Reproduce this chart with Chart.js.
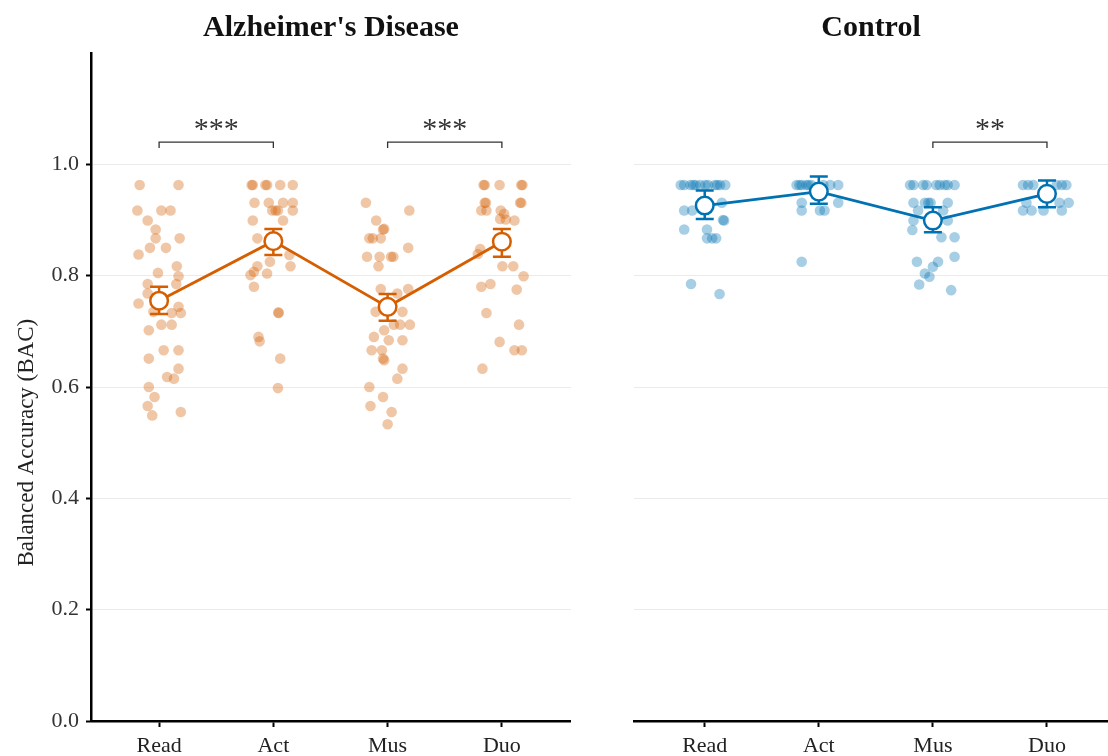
<!DOCTYPE html>
<html>
<head>
<meta charset="utf-8">
<script src="https://cdn.jsdelivr.net/npm/chart.js@4.4.1/dist/chart.umd.min.js"></script>
<style>
  body { margin: 0; background: #fff; }
  #wrap { position: relative; width: 1108px; height: 756px; overflow: hidden; }
  canvas { position: absolute; top: 0; }
</style>
</head>
<body>
<div id="wrap">
  <canvas id="adChart" width="571" height="756" style="left:0"></canvas>
  <canvas id="ctlChart" width="528" height="756" style="left:580px"></canvas>
</div>
<script>
const categories = ['Read', 'Act', 'Mus', 'Duo'];

// individual subjects: [horizontal jitter, balanced accuracy]
const adRead = [[-0.17,0.963],[0.17,0.963],[-0.19,0.917],[0.02,0.917],[0.10,0.917],[-0.10,0.899],
  [-0.03,0.883],[-0.03,0.867],[0.18,0.867],[-0.08,0.850],[0.06,0.850],[-0.18,0.838],[0.155,0.817],
  [-0.01,0.805],[0.17,0.799],[-0.10,0.785],[0.15,0.785],[-0.10,0.768],[-0.18,0.750],[0.17,0.744],
  [-0.05,0.735],[0.11,0.733],[0.19,0.733],[0.02,0.712],[0.11,0.712],[-0.09,0.702],[0.04,0.666],
  [0.17,0.666],[-0.09,0.651],[0.17,0.633],[0.07,0.618],[0.13,0.615],[-0.09,0.600],[-0.04,0.582],
  [-0.10,0.566],[0.19,0.555],[-0.06,0.549]];
const adAct = [[-0.18,0.963],[-0.19,0.963],[-0.055,0.963],[-0.07,0.963],[0.06,0.963],[0.17,0.963],
  [-0.165,0.931],[-0.04,0.931],[0.085,0.931],[0.17,0.931],[-0.01,0.917],[0.04,0.917],[0.02,0.917],
  [0.17,0.917],[-0.18,0.899],[0.085,0.899],[-0.14,0.867],[0.14,0.837],[-0.03,0.825],[0.15,0.817],
  [-0.14,0.817],[-0.17,0.807],[-0.055,0.804],[-0.2,0.801],[-0.17,0.780],[0.045,0.733],[0.045,0.734],
  [-0.13,0.690],[-0.12,0.682],[0.06,0.651],[0.04,0.598]];
const adMus = [[-0.19,0.931],[0.19,0.917],[-0.10,0.899],[-0.04,0.883],[-0.03,0.884],[-0.16,0.867],
  [-0.13,0.867],[-0.06,0.867],[0.18,0.850],[-0.18,0.834],[-0.07,0.834],[0.03,0.834],[0.05,0.834],
  [-0.08,0.817],[-0.06,0.776],[0.18,0.776],[0.085,0.768],[-0.105,0.735],[0.13,0.735],[0.055,0.712],
  [0.11,0.712],[0.195,0.712],[-0.03,0.702],[-0.12,0.690],[0.01,0.684],[0.13,0.684],[-0.14,0.666],
  [-0.05,0.666],[-0.04,0.651],[-0.03,0.648],[0.13,0.633],[0.085,0.615],[-0.16,0.600],[-0.04,0.582],
  [-0.15,0.566],[0.035,0.555],[0.0,0.533]];
const adDuo = [[-0.16,0.963],[-0.15,0.963],[-0.02,0.963],[0.17,0.963],[0.18,0.963],[-0.15,0.931],
  [-0.14,0.931],[0.17,0.931],[0.16,0.931],[-0.18,0.917],[-0.135,0.917],[-0.01,0.917],[0.02,0.911],
  [-0.015,0.902],[0.035,0.901],[0.11,0.899],[-0.19,0.848],[-0.21,0.839],[0.005,0.817],[0.10,0.817],
  [0.19,0.799],[-0.1,0.785],[-0.18,0.780],[0.13,0.775],[-0.135,0.733],[0.15,0.712],[-0.02,0.681],
  [0.11,0.666],[0.175,0.666],[-0.17,0.633]];

const ctlRead = [[-0.21,0.963],[-0.18,0.963],[-0.125,0.963],[-0.10,0.963],[-0.08,0.963],[-0.04,0.963],
  [0.005,0.963],[0.03,0.963],[0.09,0.963],[0.11,0.963],[0.135,0.963],[0.18,0.963],[0.15,0.931],
  [-0.18,0.917],[-0.11,0.917],[0.17,0.899],[0.16,0.900],[-0.18,0.883],[0.02,0.883],[0.02,0.867],
  [0.065,0.867],[0.10,0.867],[-0.12,0.785],[0.13,0.767]];
const ctlAct = [[-0.195,0.963],[-0.17,0.963],[-0.15,0.963],[-0.11,0.963],[-0.09,0.963],[-0.065,0.963],
  [0.04,0.963],[0.1,0.963],[0.17,0.963],[-0.15,0.931],[0.17,0.931],[-0.15,0.917],[0.01,0.917],
  [0.05,0.917],[-0.15,0.825]];
const ctlMus = [[-0.20,0.963],[-0.17,0.963],[-0.085,0.963],[-0.055,0.963],[0.03,0.963],[0.06,0.963],
  [0.105,0.963],[0.13,0.963],[0.19,0.963],[-0.17,0.931],[-0.07,0.931],[-0.04,0.931],[-0.02,0.931],
  [0.13,0.931],[-0.13,0.917],[0.09,0.917],[-0.17,0.899],[0.13,0.899],[-0.18,0.882],[0.075,0.869],
  [0.19,0.869],[0.19,0.834],[-0.14,0.825],[0.045,0.825],[0.0,0.816],[-0.07,0.804],[-0.03,0.798],
  [-0.12,0.784],[0.16,0.774]];
const ctlDuo = [[-0.21,0.963],[-0.165,0.963],[-0.12,0.963],[0.085,0.963],[0.13,0.963],[0.17,0.963],
  [-0.18,0.931],[0.11,0.931],[0.19,0.931],[-0.21,0.917],[-0.135,0.917],[-0.03,0.917],[0.13,0.917]];

// group means with error bar limits
const adMeans = [0.755, 0.862, 0.744, 0.861];
const adLower = [0.731, 0.837, 0.719, 0.834];
const adUpper = [0.780, 0.884, 0.767, 0.884];
const ctlMeans = [0.926, 0.951, 0.899, 0.947];
const ctlLower = [0.902, 0.929, 0.878, 0.923];
const ctlUpper = [0.953, 0.978, 0.923, 0.971];

// significance brackets: [from category, to category, label]
const adBrackets = [[1, 2, '***'], [3, 4, '***']];
const ctlBrackets = [[3, 4, '**']];
const bracketLevel = 1.04;

const yTicks = [0, 0.2, 0.4, 0.6, 0.8, 1.0];

const SERIF = "'Liberation Serif', 'Times New Roman', serif";

function toPoints(groups) {
    return groups.flatMap((g, i) => g.map(p => ({ x: i + 1 + p[0], y: p[1] })));
}

// error bars drawn right after the jittered points, under the mean line
const errorBarPlugin = {
    id: 'errorBars',
    afterDatasetDraw(chart, args, opts) {
        if (args.index !== 0) return;
        const ctx = chart.ctx, xs = chart.scales.x, ys = chart.scales.y;
        ctx.save();
        ctx.strokeStyle = opts.color;
        ctx.lineWidth = 2.5;
        opts.lower.forEach((lo, i) => {
            const x = xs.getPixelForValue(i + 1);
            const y1 = ys.getPixelForValue(lo), y2 = ys.getPixelForValue(opts.upper[i]);
            ctx.beginPath();
            ctx.moveTo(x, y1); ctx.lineTo(x, y2);
            ctx.moveTo(x - 9, y1); ctx.lineTo(x + 9, y1);
            ctx.moveTo(x - 9, y2); ctx.lineTo(x + 9, y2);
            ctx.stroke();
        });
        ctx.restore();
    }
};

const bracketPlugin = {
    id: 'sigBrackets',
    afterDraw(chart, args, opts) {
        const ctx = chart.ctx, xs = chart.scales.x, ys = chart.scales.y;
        ctx.save();
        ctx.strokeStyle = '#333';
        ctx.fillStyle = '#333';
        ctx.lineWidth = 1.3;
        ctx.font = '30px ' + SERIF;
        ctx.textAlign = 'center';
        ctx.textBaseline = 'alphabetic';
        opts.items.forEach(b => {
            const x1 = xs.getPixelForValue(b[0]), x2 = xs.getPixelForValue(b[1]);
            const y = ys.getPixelForValue(bracketLevel);
            ctx.beginPath();
            ctx.moveTo(x1, y + 6); ctx.lineTo(x1, y); ctx.lineTo(x2, y); ctx.lineTo(x2, y + 6);
            ctx.stroke();
            ctx.fillText(b[2], (x1 + x2) / 2, y - 4);
        });
        ctx.restore();
    }
};

const yTitlePlugin = {
    id: 'yTitle',
    afterDraw(chart, args, opts) {
        if (!opts.text) return;
        const ctx = chart.ctx, ys = chart.scales.y;
        const yc = (ys.getPixelForValue(0) + ys.getPixelForValue(1)) / 2;
        ctx.save();
        ctx.translate(27, yc);
        ctx.rotate(-Math.PI / 2);
        ctx.font = '23px ' + SERIF;
        ctx.fillStyle = '#222';
        ctx.textAlign = 'center';
        ctx.textBaseline = 'middle';
        ctx.fillText(opts.text, 0, 0);
        ctx.restore();
    }
};

function makeChart(id, cfg) {
    const color = cfg.color;
    return new Chart(document.getElementById(id), {
        data: {
            datasets: [{
                type: 'scatter',
                data: toPoints(cfg.groups),
                backgroundColor: cfg.pointColor,
                borderWidth: 0,
                pointRadius: 5.3,
                pointHoverRadius: 5.3,
                order: 2
            }, {
                type: 'line',
                data: cfg.means.map((m, i) => ({ x: i + 1, y: m })),
                borderColor: color,
                borderWidth: 2.8,
                pointRadius: 8.8,
                pointBackgroundColor: '#fff',
                pointBorderColor: color,
                pointBorderWidth: 2.5,
                tension: 0,
                order: 1
            }]
        },
        options: {
            responsive: false,
            animation: false,
            layout: { padding: 0, autoPadding: false },
            plugins: {
                legend: { display: false },
                tooltip: { enabled: false },
                title: {
                    display: true,
                    text: cfg.title,
                    fullSize: false,
                    color: '#111',
                    font: { family: SERIF, size: 30, weight: 'bold', lineHeight: 1.2 },
                    padding: { top: 10, bottom: 7 }
                },
                errorBars: { lower: cfg.lower, upper: cfg.upper, color: color },
                sigBrackets: { items: cfg.brackets },
                yTitle: { text: cfg.yTitle }
            },
            scales: {
                x: {
                    type: 'linear',
                    min: cfg.xMin,
                    max: cfg.xMax,
                    afterBuildTicks: s => { s.ticks = categories.map((c, i) => ({ value: i + 1 })); },
                    afterFit: s => {
                        s.height = 35;
                        s.paddingLeft = 0;
                        s.paddingRight = 0;
                    },
                    ticks: {
                        autoSkip: false,
                        maxRotation: 0,
                        padding: 6,
                        color: '#222',
                        font: { family: SERIF, size: 22 },
                        callback: v => categories[Math.round(v) - 1]
                    },
                    grid: { drawOnChartArea: false, drawTicks: true, tickLength: 6, tickColor: '#000', tickWidth: 2 },
                    border: { display: true, color: '#000', width: 2.5 }
                },
                y: {
                    min: 0,
                    max: 1.2,
                    afterBuildTicks: s => { s.ticks = yTicks.map(v => ({ value: v })); },
                    afterFit: s => { s.width = cfg.yWidth; },
                    ticks: {
                        display: cfg.showY,
                        padding: 7,
                        color: '#333',
                        font: { family: SERIF, size: 22 },
                        callback: v => v.toFixed(1)
                    },
                    grid: {
                        color: '#ebebeb',
                        lineWidth: 1,
                        drawTicks: cfg.showY,
                        tickLength: 5,
                        tickColor: '#000',
                        tickWidth: 2
                    },
                    border: { display: cfg.showY, color: '#000', width: 2.5 }
                }
            }
        },
        plugins: [errorBarPlugin, bracketPlugin, yTitlePlugin]
    });
}

makeChart('adChart', {
    title: "Alzheimer's Disease",
    yTitle: 'Balanced Accuracy (BAC)',
    groups: [adRead, adAct, adMus, adDuo],
    means: adMeans, lower: adLower, upper: adUpper,
    brackets: adBrackets,
    color: '#D55E00',
    pointColor: 'rgba(213, 94, 0, 0.35)',
    xMin: 0.404, xMax: 4.605,
    yWidth: 91, showY: true
});

makeChart('ctlChart', {
    title: 'Control',
    yTitle: '',
    groups: [ctlRead, ctlAct, ctlMus, ctlDuo],
    means: ctlMeans, lower: ctlLower, upper: ctlUpper,
    brackets: ctlBrackets,
    color: '#0072B2',
    pointColor: 'rgba(0, 114, 178, 0.35)',
    xMin: 0.38, xMax: 4.535,
    yWidth: 54, showY: false
});
</script>
</body>
</html>
